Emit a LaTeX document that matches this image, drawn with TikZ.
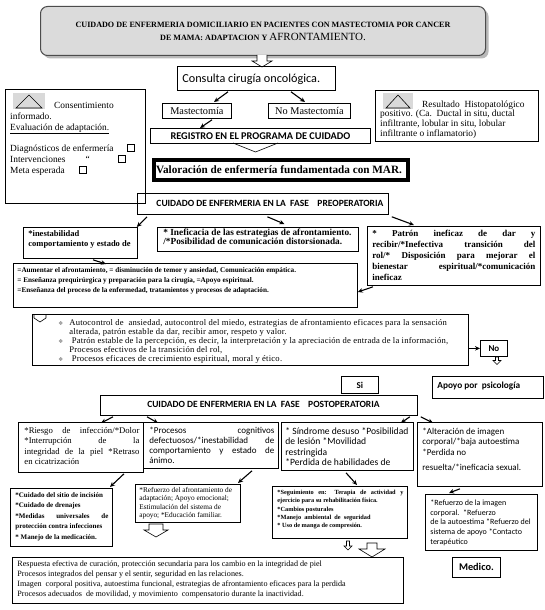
\documentclass[tikz,border=0pt]{standalone}
\usepackage{fontspec}
\setmainfont{Liberation Serif}
\newfontfamily\calb{Carlito}
\newfontfamily\djv{DejaVu Sans}
\newfontfamily\spaced[LetterSpace=2.5]{Liberation Serif}
\usetikzlibrary{arrows.meta,shadows,calc}
\newcommand\fs[2]{\fontsize{#1pt}{#2pt}\selectfont}
\newcommand\bx[6]{\parbox[c][#2pt][t]{#1pt}{\vspace*{#3pt}\leftskip=#4pt\rightskip=#5\relax #6}}
\newcommand\bul{\leavevmode\llap{{\djv\fs{5.5}{6}\color{gray}❖}\hspace{6pt}}}
\begin{document}
\begin{tikzpicture}[x=1pt,y=-1pt,
  bxs/.style={draw,line width=0.8pt,inner sep=0pt,anchor=north west},
  arr/.style={line width=1.1pt,-{Stealth[length=5pt,width=4.5pt]}},
  hol/.style={draw,line width=0.6pt,fill=white,line join=miter},
  cbox/.style={draw,line width=0.5pt,minimum size=7,inner sep=0pt},
  grayrect/.style={fill=gray!30,inner sep=0pt,anchor=north west}]
\fill[white] (0,0) rectangle (545,610);
\useasboundingbox (0,0) rectangle (545,610);

% title
\node[bxs,rounded corners=7pt,fill=gray!28,draw=gray!60!black,line width=1pt,
  drop shadow={shadow xshift=3pt,shadow yshift=-3pt,fill=gray!55,opacity=1}] (title) at (40,6)
  {\bx{445}{49}{11.5}{0}{0pt}{\centering\bfseries\fs{8.1}{13}\strut CUIDADO DE ENFERMERIA DOMICILIARIO EN PACIENTES CON MASTECTOMIA POR CANCER\\{}DE MAMA: ADAPTACION Y {\mdseries\fs{11}{13}AFRONTAMIENTO.}}};
\draw[hol] (257,55) -- (257,61) -- (252,61) -- (262,67) -- (272,61) -- (267,61) -- (267,55);

\node[bxs] (con) at (177,66) {\bx{158}{24}{6.9}{5}{2pt plus 1fil}{\calb\fs{12.2}{13}\strut Consulta cirugía oncológica.}};
\node[bxs] (mas) at (162,103) {\bx{69}{15}{3.4}{0}{0pt}{\centering\fs{10.3}{11.5}\strut Mastectomía}};
\node[bxs] (nom) at (268,103) {\bx{82}{15}{3.4}{0}{0pt}{\centering\fs{10.3}{11.5}\strut No Mastectomía}};
\node[bxs] (reg) at (150,128) {\bx{220}{15}{3.8}{0}{0pt}{\centering\calb\bfseries\fs{10.3}{11}\strut REGISTRO EN EL PROGRAMA DE CUIDADO}};
\draw[line width=0.6pt] (233,143) -- (255.5,152) -- (278,143);
\node[bxs,line width=4pt] (val) at (152,158) {\bx{254}{20}{4.7}{2}{0pt plus 1fil}{\bfseries\fs{11.2}{13}\strut\mbox{Valoración de enfermería fundamentada con MAR.}}};

% left box
\node[bxs,minimum width=140,minimum height=114] (lb) at (5,89) {};
\node[grayrect,minimum width=32,minimum height=16] (lg) at (13,93) {};
\draw[line width=0.6pt] (16,108) -- (29,95) -- (42,108) -- cycle;
\node[anchor=north west,inner sep=0pt,align=left,font=\fs{9.4}{11}] (lt) at (10,100.3)
 {\strut\hspace*{44pt}Consentimiento\\ informado.\\ \underline{Evaluación de adaptación.}\\[10pt] Diagnósticos de enfermería\\ Intervenciones\hspace*{20pt}“\\ Meta esperada};
\node[cbox] (cb1) at (131,147.5) {};
\node[cbox] (cb2) at (122,158.5) {};
\node[cbox] (cb3) at (83,169.5) {};

% right box
\node[bxs,minimum width=163,minimum height=51] (rb) at (375,90) {};
\node[grayrect,minimum width=30,minimum height=16] (rg) at (383,93) {};
\draw[line width=0.6pt] (386,108) -- (398,95) -- (410,108) -- cycle;
\node[anchor=north west,inner sep=0pt,align=left,font=\fs{9.4}{9.6}] (rt) at (380,100.3)
 {\strut\hspace*{42pt}Resultado\ \ Histopatológico\\ positivo. (Ca.\ \ Ductal in situ, ductal\\ infiltrante, lobular in situ, lobular\\ infiltrante o inflamatorio)};

% preoperatoria
\node[bxs] (pre) at (137,193) {\bx{251}{21}{5.4}{0}{0pt}{\centering\calb\bfseries\fs{9.5}{10.5}\hspace*{14pt}\strut CUIDADO DE ENFERMERIA EN LA\ \ FASE\ \ \ \ PREOPERATORIA}};
\node[bxs] (ines) at (23,227) {\bx{114}{31}{2}{5}{2pt plus 1fil}{\bfseries\fs{8.5}{10}\strut *inestabilidad\\{}comportamiento y estado de}};
\node[bxs] (inef) at (157,227) {\bx{201}{24}{1.5}{6}{2pt plus 1fil}{\bfseries\fs{9.3}{9.4}\strut * Ineficacia de las estrategias de afrontamiento.\\{}/*Posibilidad de comunicación distorsionada.}};
\node[bxs] (pat) at (367,226) {\bx{173}{59}{2.4}{5}{5pt}{\bfseries\fs{9}{10.9}\strut * Patrón ineficaz de dar y\linebreak recibir/*Inefectiva transición del\linebreak rol/* Disposición para mejorar el\linebreak bienestar espiritual/*comunicación\linebreak ineficaz}};
\node[bxs] (igu) at (13,263) {\bx{344}{44}{2.7}{4}{2pt plus 1fil}{\bfseries\fs{7.2}{9.7}\strut =Aumentar el afrontamiento, = disminución de temor y ansiedad, Comunicación empática.\\{}= Enseñanza prequirúrgica y preparación para la cirugía, =Apoyo espiritual.\\{}=Enseñanza del proceso de la enfermedad, tratamientos y procesos de adaptación.}};

% outcomes
\node[bxs] (out) at (32,314) {\bx{436}{51}{5}{37}{2pt plus 1fil}{\spaced\fs{8.6}{8.9}\strut\bul Autocontrol de\ \ ansiedad, autocontrol del miedo, estrategias de afrontamiento eficaces para la sensación\\{}alterada, patrón estable da dar, recibir amor, respeto y valor.\par \bul\ Patrón estable de la percepción, es decir, la interpretación y la apreciación de entrada de la información,\\{}Procesos efectivos de la transición del rol,\par \bul\ Procesos eficaces de crecimiento espiritual, moral y ético.}};
\draw[line width=0.6pt] (34,314) -- (34,318) -- (40,322) -- (46,318) -- (46,314);
\node[bxs] (no) at (480,340) {\bx{27}{16}{3.8}{0}{0pt}{\centering\calb\bfseries\fs{9}{10.5}\strut No}};
\draw[hol] (495.5,357) -- (495.5,360.5) -- (493,360.5) -- (497,364.5) -- (501,360.5) -- (498.5,360.5) -- (498.5,357) -- cycle;
\node[bxs] (apo) at (432,376) {\bx{111}{22}{4.6}{5}{2pt plus 1fil}{\calb\bfseries\fs{9.3}{10.5}\strut Apoyo por\ \ psicología}};
\node[bxs] (si) at (341,376) {\bx{37}{17}{4.5}{0}{0pt}{\centering\calb\bfseries\fs{9}{10.5}\strut Si}};

% postoperatoria
\node[bxs] (post) at (100,395) {\bx{317}{20}{5.2}{0}{0pt}{\centering\calb\bfseries\fs{9.5}{10.5}\hspace*{9pt}\strut CUIDADO DE ENFERMERIA EN LA\ \ FASE\ \ \ \ POSTOPERATORIA}};
\node[bxs] (ries) at (18,422) {\bx{125}{50}{3.6}{6}{4pt}{\fs{8.7}{10.5}\strut *Riesgo de infección/*Dolor\linebreak *Interrupción de la\linebreak integridad de la piel *Retraso\linebreak en cicatrización}};
\node[bxs] (proc) at (143,422) {\bx{135}{46}{3.7}{6}{4pt}{\calb\fs{9}{10}\strut *Procesos cognitivos\linebreak defectuosos/*inestabilidad de\linebreak comportamiento y estado de\linebreak ánimo.}};
\node[bxs] (sin) at (281,422) {\bx{132}{48}{4.4}{4}{2pt plus 1fil}{\calb\fs{9.6}{10.5}\strut * Síndrome desuso *Posibilidad\\{}de lesión *Movilidad\\{}restringida\\{}*Perdida de habilidades de}};
\node[bxs] (alt) at (417,422) {\bx{125}{64}{4.4}{5}{2pt plus 1fil}{\calb\fs{9}{10.5}\strut *Alteración de imagen\\{}corporal/*baja autoestima\\{}*Perdida no\\[5pt]{}resuelta/*ineficacia sexual.}};

\node[bxs] (cui) at (10,488) {\bx{102}{58}{1.7}{5}{4pt}{\bfseries\fs{7}{10.5}\strut *Cuidado del sitio de incisión\\{}*Cuidado de drenajes\\{}*Medidas universales de\linebreak protección contra infecciones\\{}* Manejo de la medicación.}};
\node[bxs] (ref) at (135,484) {\bx{105}{38}{2}{4}{1pt plus 1fil}{\fs{7.3}{8.5}\strut *Refuerzo del afrontamiento de\\{}adaptación; Apoyo emocional;\\{}Estimulación del sistema de\\{}apoyo; *Educación familiar.}};
\node[bxs] (seg) at (272,486) {\bx{135}{52}{2.5}{5}{4pt}{\bfseries\fs{6.3}{8.2}\strut *Seguimiento en: Terapia de actividad y\linebreak ejercicio para su rehabilitación física.\\{}*Cambios posturales\\{}*Manejo\ \ ambiental\ \ de\ \ seguridad\\{}* Uso de manga de compresión.}};
\node[bxs] (rim) at (425,494) {\bx{112}{56}{4}{5}{1pt plus 1fil}{\calb\fs{8}{9.8}\strut *Refuerzo de la imagen\\{}corporal.\ \ *Refuerzo\\{}de la autoestima *Refuerzo del\\{}sistema de apoyo *Contacto\\{}terapéutico}};

\draw[hol] (149,524) -- (149,530) -- (144,530) -- (156,537) -- (168,530) -- (163,530) -- (163,524) -- cycle;
\draw[hol] (346.5,541) -- (346.5,546) -- (344,546) -- (348,550) -- (352,546) -- (349.5,546) -- (349.5,541) -- cycle;
\draw[hol] (367,543) -- (367,549) -- (359,549) -- (372,557) -- (385,549) -- (377,549) -- (377,543) -- cycle;

\node[bxs] (fin) at (12,557) {\bx{391}{46}{2}{5}{2pt plus 1fil}{\fs{8.1}{10}\strut Respuesta efectiva de curación, protección secundaria para los cambio en la integridad de piel\\{}Procesos integrados del pensar y el sentir, seguridad en las relaciones.\\{}Imagen\ \ corporal positiva, autoestima funcional, estrategias de afrontamiento eficaces para la perdida\\{}Procesos adecuados\ \ de movilidad, y movimiento\ \ compensatorio durante la inactividad.}};
\node[bxs] (med) at (452,557) {\bx{48}{20}{5.5}{0}{0pt}{\centering\calb\bfseries\fs{10.3}{11}\strut Medico.}};

% connectors
\draw[arr] ($(con.south west)+(51,1)$) -- ($(mas.north west)+(52,-1)$);
\draw[arr] ($(con.south west)+(114,1)$) -- ($(nom.north west)+(37,-1)$);
\draw[arr] ($(mas.south west)+(50,1)$) -- ($(reg.north west)+(50,0)$);
\draw[arr] ($(pre.south west)+(10,2)$) -- ($(ines.north east)+(-1,0)$);
\draw[arr] ($(pre.south)+(4.5,2)$) -- ($(inef.north)+(26.5,-3)$);
\draw[arr] ($(pre.south east)+(3,2)$) -- ($(pat.north west)+(47,-1)$);
\draw[arr] ($(ines.south west)+(70,1)$) -- ($(igu.north west)+(93,1)$);
\draw[arr] ($(pat.south west)+(6,1)$) -- ($(igu.north east)+(0,29)$);
\draw[arr] (out.east |- no.west) -- (no.west);
\draw[arr] ($(post.south west)+(13,1)$) -- ($(ries.north west)+(83,1)$);
\draw[arr] ($(post.south west)+(47,1)$) -- ($(proc.north west)+(15,1)$);
\draw[arr] ($(post.south east)+(-8,1)$) -- ($(sin.north east)+(-13,1)$);
\draw[arr] ($(post.south east)+(3,1)$) -- ($(alt.north west)+(16,1)$);
\draw[arr] ($(ries.south west)+(106,1)$) -- ($(cui.north west)+(100,-1)$);
\draw[arr] ($(proc.south west)+(109,2)$) -- ($(ref.north west)+(103,-1)$);
\draw[arr] ($(sin.south west)+(65,2)$) -- ($(seg.north west)+(85,-1)$);
\draw[arr] ($(alt.south west)+(43,2)$) -- ($(rim.north west)+(24,-1)$);
\end{tikzpicture}
\end{document}
